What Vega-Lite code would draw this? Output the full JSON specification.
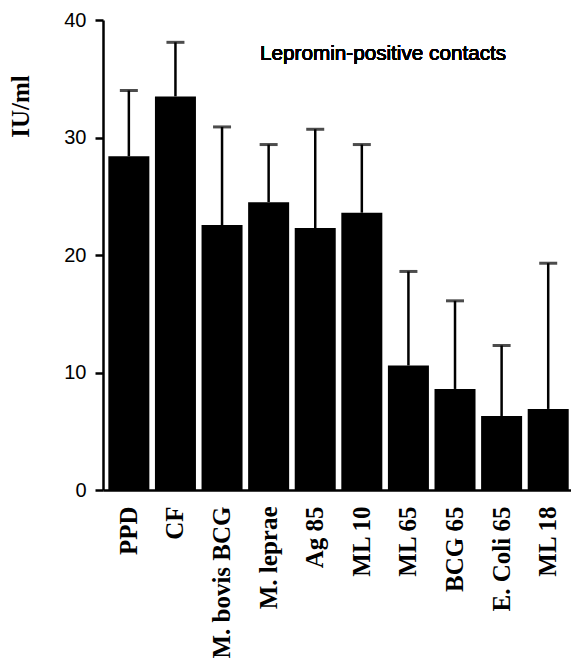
{
  "$schema": "https://vega.github.io/schema/vega-lite/v6.json",
  "autosize": {"type": "none"},
  "padding": {"left": 103, "top": 20, "right": 0, "bottom": 178},
  "width": 468,
  "height": 470,
  "background": "white",
  "config": {"view": {"stroke": null}},
  "data": {
    "values": [
      {"antigen": "PPD", "mean": 28.4, "upper": 34.0},
      {"antigen": "CF", "mean": 33.5, "upper": 38.1},
      {"antigen": "M. bovis BCG", "mean": 22.55, "upper": 30.9},
      {"antigen": "M. leprae", "mean": 24.5, "upper": 29.4},
      {"antigen": "Ag 85", "mean": 22.3, "upper": 30.7},
      {"antigen": "ML 10", "mean": 23.6, "upper": 29.4},
      {"antigen": "ML 65", "mean": 10.6, "upper": 18.6},
      {"antigen": "BCG 65", "mean": 8.6, "upper": 16.1},
      {"antigen": "E. Coli 65", "mean": 6.3, "upper": 12.3},
      {"antigen": "ML 18", "mean": 6.9, "upper": 19.3}
    ]
  },
  "encoding": {
    "x": {
      "field": "antigen",
      "type": "nominal",
      "sort": null,
      "scale": {"paddingInner": 0.12, "paddingOuter": 0.082, "align": 0.7},
      "axis": {
        "title": null,
        "labelAngle": -90,
        "labelAlign": "right",
        "labelBaseline": "middle",
        "labelFont": "Liberation Serif",
        "labelFontWeight": "bold",
        "labelFontSize": 25,
        "labelColor": "black",
        "labelPadding": 16,
        "ticks": false,
        "tickSize": 0,
        "domainColor": "black",
        "domainWidth": 2.5,
        "labelOverlap": false,
        "labelLimit": 0
      }
    }
  },
  "layer": [
    {
      "mark": {"type": "rule", "color": "black", "strokeWidth": 2.5},
      "encoding": {
        "y": {"field": "mean", "type": "quantitative"},
        "y2": {"field": "upper"}
      }
    },
    {
      "mark": {"type": "tick", "color": "black", "orient": "horizontal", "size": 18, "thickness": 3},
      "encoding": {
        "y": {"field": "upper", "type": "quantitative"}
      }
    },
    {
      "mark": {"type": "bar", "color": "black"},
      "encoding": {
        "y": {
          "field": "mean",
          "type": "quantitative",
          "scale": {"domain": [0, 40], "nice": false, "zero": true},
          "axis": {
            "title": "IU/ml",
            "titleFont": "Liberation Serif",
            "titleFontWeight": "bold",
            "titleFontSize": 25,
            "titleColor": "black",
            "titleAngle": -90,
            "titleX": -82.5,
            "titleY": 86,
            "titleAlign": "center",
            "titleBaseline": "middle",
            "values": [0, 10, 20, 30, 40],
            "grid": false,
            "labelFont": "Liberation Sans",
            "labelFontSize": 20,
            "labelColor": "black",
            "labelPadding": 9,
            "tickSize": 8,
            "tickWidth": 2.5,
            "tickColor": "black",
            "domainColor": "black",
            "domainWidth": 2.5
          }
        }
      }
    },
    {
      "mark": {"type": "text", "align": "left", "baseline": "alphabetic", "font": "Liberation Sans", "fontWeight": "normal", "fontSize": 20.7, "color": "black", "dx": -8.6},
      "encoding": {
        "x": {"datum": "M. leprae"},
        "y": {"datum": 36.6, "type": "quantitative"},
        "text": {"value": "Lepromin-positive contacts"}
      }
    }
  ]
}
